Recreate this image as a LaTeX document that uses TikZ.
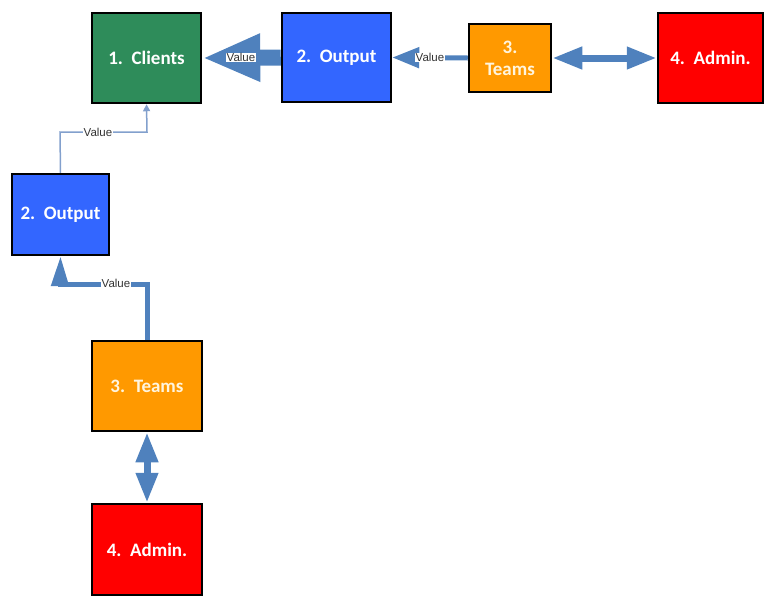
\documentclass[tikz,border=0pt]{standalone}
\usepackage{fontspec}
\setmainfont{Carlito}
\newfontfamily\labelfont{Liberation Sans}
\usetikzlibrary{arrows.meta}
\definecolor{cgreen}{RGB}{46,140,90}
\definecolor{cblue}{RGB}{51,102,255}
\definecolor{corange}{RGB}{255,153,0}
\definecolor{cred}{RGB}{255,0,0}
\definecolor{carrow}{RGB}{79,129,189}
\definecolor{cthin}{RGB}{130,160,205}
\definecolor{ccream}{RGB}{255,245,222}
\begin{document}
\begin{tikzpicture}[x=1pt,y=-1pt,
  box/.style={draw=black,line width=2.5pt,inner sep=0pt,align=center,
    font=\fontsize{19}{22}\selectfont\bfseries,text=white},
  vlabel/.style={fill=white,inner sep=0.5pt,font=\labelfont\fontsize{11.5}{12}\selectfont,text=black!80},
  fat/.style={draw=carrow,line width=16pt,-{Triangle[length=58pt,width=44pt]}},
  mid/.style={draw=carrow,line width=5pt,-{Triangle[length=27pt,width=20pt]}},
  dbl/.style={draw=carrow,line width=7pt,{Triangle[length=30pt,width=21pt]}-{Triangle[length=30pt,width=21pt]}},
  thin/.style={draw=cthin,line width=1.5pt,-{Triangle[length=7pt,width=7pt]}}]
\useasboundingbox (0,0) rectangle (765,595);
% top row
\node[box,fill=cgreen,minimum width=109pt,minimum height=90pt] (clients) at (146.5,58) {1.~~Clients};
\node[box,fill=cblue,minimum width=109pt,minimum height=89pt] (outA) at (336.5,57.5) {2.~~Output};
\node[box,fill=corange,text=ccream,minimum width=82pt,minimum height=68pt] (teamsA) at (510,58) {3.\\Teams};
\node[box,fill=cred,minimum width=105pt,minimum height=90pt] (adminA) at (710.5,58) {4.~~Admin.};
% left column
\node[box,fill=cblue,minimum width=97pt,minimum height=81pt] (outB) at (60.5,214.5) {2.~~Output};
\node[box,fill=corange,text=ccream,minimum width=110pt,minimum height=90pt] (teamsB) at (147,386) {3.~~Teams};
\node[box,fill=cred,minimum width=110pt,minimum height=91pt] (adminB) at (147,549.5) {4.~~Admin.};
% connectors
\draw[fat] (outA.west) -- (clients.east);
\node[vlabel] (lv1) at (241,57.5) {Value};
\draw[mid] (teamsA.west) -- (outA.east);
\node[vlabel] (lv2) at (430,57.5) {Value};
\draw[dbl] (teamsA.east) -- (adminA.west);
\coordinate (t1) at (60,132);
\coordinate (t2) at (147,132);
\draw[thin] (outB.north) -- (t1) -- (t2) -- (clients.south);
\node[vlabel] (lv3) at (98,132) {Value};
\coordinate (m1) at (147,284);
\coordinate (m2) at (60,284);
\draw[draw=carrow,line width=5pt,line join=miter] (teamsB.north) -- (m1) -- (m2) -- ++(0,-1);
\draw[draw=carrow,line width=5pt,-{Triangle[length=30pt,width=17pt]}] (m2) ++(0,2) -- (outB.south);
\node[vlabel] (lv4) at (116,283) {Value};
\draw[dbl] (teamsB.south) -- (adminB.north);
\end{tikzpicture}
\end{document}
